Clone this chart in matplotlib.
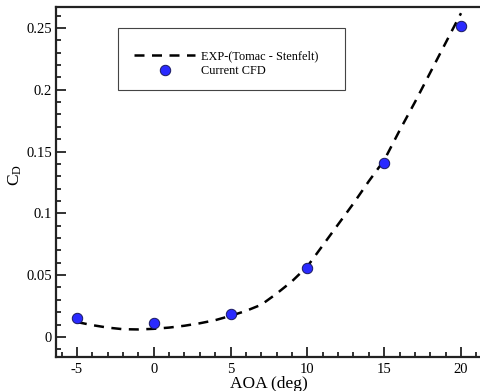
import matplotlib
matplotlib.use('Agg')
import matplotlib.pyplot as plt
from matplotlib.ticker import MultipleLocator
from matplotlib.patches import Rectangle

plt.rcParams['font.family'] = ['Liberation Serif', 'DejaVu Serif']
plt.rcParams['mathtext.fontset'] = 'custom'
plt.rcParams['mathtext.rm'] = 'Liberation Serif'
plt.rcParams['axes.unicode_minus'] = False

exp_aoa = [-5, -4, -3, -2, -1, 0, 1, 2, 3, 4, 5, 6, 7, 8, 9, 10,
           11, 12, 13, 14, 15, 16, 17, 18, 19, 20]
exp_cd = [0.012, 0.0095, 0.0075, 0.0062, 0.006, 0.0065, 0.0075, 0.009,
          0.011, 0.0135, 0.017, 0.021, 0.026, 0.035, 0.045, 0.057,
          0.074, 0.091, 0.108, 0.126, 0.143, 0.167, 0.190, 0.214,
          0.238, 0.262]

# current CFD points
cfd_aoa = [-5, 0, 5, 10, 15, 20]
cfd_cd = [0.0155, 0.0115, 0.0185, 0.0556, 0.1405, 0.2515]

xtick_vals = [-5, 0, 5, 10, 15, 20]
ytick_vals = [0, 0.05, 0.1, 0.15, 0.2, 0.25]
ytick_labels = ['0', '0.05', '0.1', '0.15', '0.2', '0.25']

fig = plt.figure(figsize=(4.81, 3.91), dpi=100)
ax = fig.add_axes([56 / 481, 34 / 391, 1 - 56 / 481, 350 / 391])

line, = ax.plot(exp_aoa, exp_cd, color='black', linewidth=1.8,
                linestyle=(0, (4, 3)), label='EXP-(Tomac - Stenfelt)', zorder=2)
pts, = ax.plot(cfd_aoa, cfd_cd, linestyle='none', marker='o', markersize=7.5,
               markerfacecolor='#2a2aff', markeredgecolor='#1a1a60',
               markeredgewidth=0.7, label='Current CFD', zorder=3)

ax.set_xlim(-6.36, 21.3)
ax.set_ylim(-0.0163, 0.267)
ax.set_xticks(xtick_vals)
ax.set_yticks(ytick_vals)
ax.set_yticklabels(ytick_labels)
ax.xaxis.set_minor_locator(MultipleLocator(1))
ax.yaxis.set_minor_locator(MultipleLocator(0.01))

ax.tick_params(which='both', direction='in', width=1.3, labelsize=10.5,
               top=False, right=False, color='#222222')
ax.tick_params(which='major', length=7)
ax.tick_params(which='minor', length=3.5)
ax.tick_params(axis='x', pad=4)
ax.tick_params(axis='y', pad=3)

for side in ['left', 'bottom', 'top']:
    ax.spines[side].set_linewidth(1.6)
    ax.spines[side].set_color('#222222')
ax.spines['right'].set_visible(False)

ax.set_xlabel('AOA (deg)', fontsize=12.5, labelpad=0)
ax.set_ylabel(r'$\mathregular{C_D}$', fontsize=12.5)
ax.yaxis.set_label_coords(-0.075, 0.52)

# legend box drawn as a plain rectangle
fig.patches.append(Rectangle((118 / 481, 1 - 90 / 391), 227 / 481, 62 / 391,
                             transform=fig.transFigure, fill=False,
                             edgecolor='#444444', linewidth=0.8))
fig.legend(handles=[line, pts], loc='upper left',
           bbox_to_anchor=(134 / 481, 1 - 50 / 391), frameon=False,
           fontsize=8.8, handlelength=5.0, handletextpad=0.45,
           labelspacing=0.25, borderpad=0, borderaxespad=0)

plt.savefig('out.png', dpi=100)
